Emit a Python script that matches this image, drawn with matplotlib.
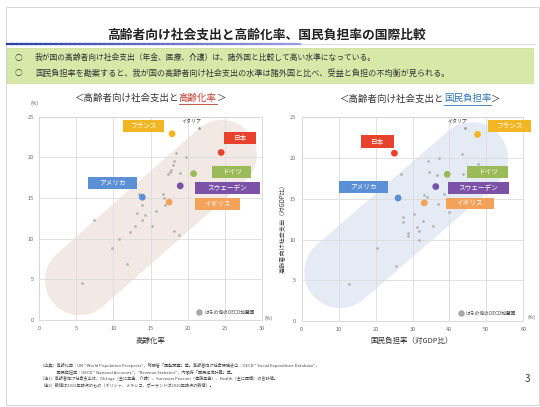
import numpy as np
import matplotlib
matplotlib.use("Agg")
import matplotlib.pyplot as plt
from matplotlib.patches import Polygon, Rectangle

plt.rcParams['font.family'] = ['Noto Sans CJK JP', 'DejaVu Sans']

# ---- data ----
countries = ["日本", "フランス", "ドイツ", "スウェーデン", "イギリス", "アメリカ"]
colors = ["#e8412c", "#f2b624", "#9bbb59", "#7b52a8", "#f4a259", "#5b8fd6"]

# elderly social spending (% of GDP)
spend = [20.6, 22.9, 18.0, 16.5, 14.5, 15.1]
# aging rate (%)
aging = [24.5, 17.9, 20.8, 19.0, 17.5, 13.9]
# national burden rate (% of GDP)
burden = [25.1, 47.6, 39.4, 36.3, 33.2, 26.1]

italy_left = (21.5, 23.6)
italy_right = (44.3, 23.65)

# other OECD members
other_aging = [18.4, 19.8, 18.2, 18.0, 17.7, 17.6, 19.0, 17.3, 13.4, 16.7, 16.8,
               16.9, 13.9, 15.7, 13.2, 14.2, 13.9, 7.4, 12.9, 15.2, 18.2, 12.2,
               18.8, 10.7, 9.8, 11.9, 5.8]
other_spend_l = [20.5, 20.0, 19.5, 19.1, 18.4, 18.2, 18.1, 17.9, 15.5, 15.5, 15.0,
                 14.2, 14.1, 13.4, 13.2, 12.9, 12.3, 12.3, 11.6, 11.6, 11.0, 10.8,
                 10.4, 9.96, 8.9, 6.9, 4.5]
other_burden = [43.3, 37.2, 34.2, 47.6, 34.5, 26.8, 43.7, 36.7, 38.4, 33.1, 34.0,
                37.0, 39.9, 30.4, 27.3, 32.8, 27.4, 35.6, 31.1, 31.8, 28.8, 28.7,
                31.7, 20.3, 25.5, 12.9]
other_spend_r = [20.5, 20.0, 19.6, 19.3, 18.3, 18.1, 18.1, 17.9, 15.6, 15.5, 15.2,
                 14.3, 13.4, 13.1, 12.8, 12.3, 12.2, 11.6, 11.5, 11.0, 10.8, 10.4,
                 9.95, 8.96, 6.8, 4.6]

# label boxes: (x0, x1, y0, y1) in data units for each country
boxes_left = {"日本": (24.9, 29.2, 21.6, 23.1), "フランス": (11.3, 16.8, 23.1, 24.6),
              "ドイツ": (23.3, 28.5, 17.5, 18.9), "スウェーデン": (21.0, 29.7, 15.5, 17.0),
              "イギリス": (21.0, 27.0, 13.5, 15.0), "アメリカ": (6.6, 13.2, 16.1, 17.6)}
boxes_right = {"日本": (16.1, 25.0, 21.2, 22.8), "フランス": (50.4, 62.1, 23.2, 24.7),
               "ドイツ": (44.8, 55.9, 17.6, 19.0), "スウェーデン": (39.6, 56.1, 15.6, 17.1),
               "イギリス": (39.1, 52.1, 13.7, 15.1), "アメリカ": (10.1, 23.4, 15.7, 17.2)}

W, H = 540, 407
fig = plt.figure(figsize=(W / 100, H / 100), dpi=100)


def fx(px):
    return px / W


def fy(py):
    return 1 - py / H


# slide frame
fig.patches.append(Rectangle((fx(6), fy(405)), fx(533), 398 / H, transform=fig.transFigure,
                             fill=False, ec="#d0d0d0", lw=0.6))

# title and gradient rule
fig.text(fx(267), fy(35), "高齢者向け社会支出と高齢化率、国民負担率の国際比較",
         ha="center", va="center", fontsize=9.2, fontweight="bold", color="#222222")
n = 60
c0 = np.array([0.17, 0.25, 0.66])
c1 = np.array([0.62, 0.62, 0.88])
xs = np.linspace(7, 300, n + 1)
for i in range(n):
    c = c0 + (c1 - c0) * i / n
    fig.add_artist(plt.Line2D([fx(xs[i]), fx(xs[i + 1])], [fy(44), fy(44)],
                              transform=fig.transFigure, color=c, lw=1.6))
fig.add_artist(plt.Line2D([fx(300), fx(535)], [fy(44.3), fy(44.3)],
                          transform=fig.transFigure, color="#c8c8d8", lw=0.5))

# green summary box
fig.patches.append(Rectangle((fx(7), fy(83)), fx(526), 35 / H, transform=fig.transFigure,
                             fc="#d6e9a9", ec="#c5dc90", lw=0.5))
fig.text(fx(15), fy(58), "○", fontsize=5.5, va="center", color="#333333")
fig.text(fx(15), fy(73), "○", fontsize=5.5, va="center", color="#333333")
fig.text(fx(35), fy(58), "我が国の高齢者向け社会支出（年金、医療、介護）は、諸外国と比較して高い水準になっている。",
         fontsize=5.6, va="center", color="#333333")
fig.text(fx(35), fy(73), "国民負担率を勘案すると、我が国の高齢者向け社会支出の水準は諸外国と比べ、受益と負担の不均衡が見られる。",
         fontsize=5.9, va="center", color="#333333")


def subtitle(cx, py, head, key, keycolor):
    r = fig.canvas.get_renderer()
    parts = [("＜" + head, "#333333"), (key, keycolor), ("＞", "#333333")]
    objs = []
    x = 0
    for s, c in parts:
        t = fig.text(x, fy(py), s, fontsize=6.8, color=c, va="center", ha="left")
        objs.append(t)
        x += t.get_window_extent(r).width / (W)
    start = fx(cx) - x / 2
    pos = start
    for t in objs:
        t.set_x(pos)
        wdt = t.get_window_extent(r).width / W
        if t.get_color() == keycolor:
            fig.add_artist(plt.Line2D([pos, pos + wdt], [fy(py + 5.5)] * 2,
                                      transform=fig.transFigure, color=keycolor, lw=0.6))
        pos += wdt


subtitle(150, 98, "高齢者向け社会支出と", "高齢化率", "#c0392b")
subtitle(420, 99, "高齢者向け社会支出と", "国民負担率", "#2e75b6")


def band(ax, p0, p1, r, color):
    t = ax.transData
    a = t.transform(p0)
    b = t.transform(p1)
    d = b - a
    ang = np.arctan2(d[1], d[0])
    th1 = np.linspace(ang + np.pi / 2, ang + 3 * np.pi / 2, 40)
    th2 = np.linspace(ang - np.pi / 2, ang + np.pi / 2, 40)
    pts = np.vstack([a + r * np.c_[np.cos(th1), np.sin(th1)],
                     b + r * np.c_[np.cos(th2), np.sin(th2)]])
    ax.add_patch(Polygon(t.inverted().transform(pts), closed=True, fc=color,
                         ec="none", zorder=0.5))


def panel(rect, xmax, xstep, xs_main, xs_other, ys_other, italy, boxes, bandspec):
    ax = fig.add_axes(rect)
    ax.set_xlim(0, xmax)
    ax.set_ylim(0, 25)
    ax.set_xticks(np.arange(0, xmax + 1, xstep))
    ax.set_yticks(np.arange(0, 26, 5))
    ax.grid(True, color="#dcdcdc", lw=0.6)
    ax.set_axisbelow(True)
    for s in ax.spines.values():
        s.set_color("#d6d6d6")
        s.set_linewidth(0.6)
    ax.tick_params(length=0, labelsize=4, labelcolor="#666666", pad=4)
    band(ax, bandspec[0], bandspec[1], bandspec[2], bandspec[3])
    ax.scatter(xs_other, ys_other, s=4, color="#b4b4b4", zorder=3, lw=0)
    ax.scatter([italy[0]], [italy[1]], s=4, color="#9a9a9a", zorder=3, lw=0)
    ax.text(italy[0] - 1.0 * xmax / 30, italy[1] + 0.9, "イタリア", fontsize=3.6,
            ha="center", va="center", color="#333333")
    ax.scatter(xs_main, spend, s=24, color=colors, zorder=4, lw=0)
    for name, col in zip(countries, colors):
        x0, x1, y0, y1 = boxes[name]
        ax.add_patch(Rectangle((x0, y0), x1 - x0, y1 - y0, fc=col, ec="none",
                               clip_on=False, zorder=5))
        ax.text((x0 + x1) / 2, (y0 + y1) / 2, name, color="white", fontsize=4.8,
                ha="center", va="center", zorder=6, clip_on=False)
    # legend note
    ax.scatter([xmax * 0.717], [0.95], s=22, color="#a8a8a8", zorder=4, lw=0)
    ax.text(xmax * 0.74, 0.95, "はその他のOECD加盟国", fontsize=3.4, va="center",
            color="#444444")
    return ax


axl = panel([fx(39), fy(320), fx(262) - fx(39), (320 - 116.7) / H], 30, 5,
            aging, other_aging, other_spend_l, italy_left, boxes_left,
            ((5.5, 4.9), (24.6, 20.3), 35, "#f3e9e4"))
axr = panel([fx(301.7), fy(321), fx(523.3) - fx(301.7), (321 - 117.3) / H], 60, 10,
            burden, other_burden, other_spend_r, italy_right, boxes_right,
            ((10.4, 6.0), (46.1, 20.0), 36, "#e5ebf4"))

fig.text(fx(35), fy(103), "(%)", fontsize=3.6, ha="center", va="center", color="#555555")
fig.text(fx(269), fy(318), "(%)", fontsize=3.6, ha="center", va="center", color="#555555")
fig.text(fx(532), fy(317), "(%)", fontsize=3.6, ha="center", va="center", color="#555555")
fig.text(fx(150), fy(341), "高齢化率", fontsize=5.4, ha="center", va="center", color="#333333")
fig.text(fx(412), fy(341), "国民負担率（対GDP比）", fontsize=5.4, ha="center", va="center",
         color="#333333")
fig.text(fx(281.5), fy(227), "高齢者向け社会支出（対GDP比）", fontsize=4.4, rotation=90,
         ha="center", va="center", color="#333333")

# footnotes
notes = [
    "（出典）高齢化率：UN \" World Population Prospects\"，総務省「国勢調査」等。高齢者向け社会保障支出：OECD \" Social Expenditure Database\"，",
    "　　　　国民負担率：OECD \" National Accounts\"，\"Revenue Statistics\"，内閣府「国民経済計算」等。",
    "（注1）高齢者向け社会支出は、Old age（主に年金、介護）、Survivors Pension（遺族年金）、Health（主に医療）の合計値。",
    "（注2）数値は2013年時点のもの（ギリシャ、メキシコ、ポーランドは2010年時点の数値）。",
]
for i, line in enumerate(notes):
    fig.text(fx(40), fy(365 + i * 6.5), line, fontsize=3.0, va="center", color="#444444")
fig.text(fx(527), fy(379), "3", fontsize=7, ha="center", va="center", color="#333333")

fig.savefig("out.png", dpi=100)
